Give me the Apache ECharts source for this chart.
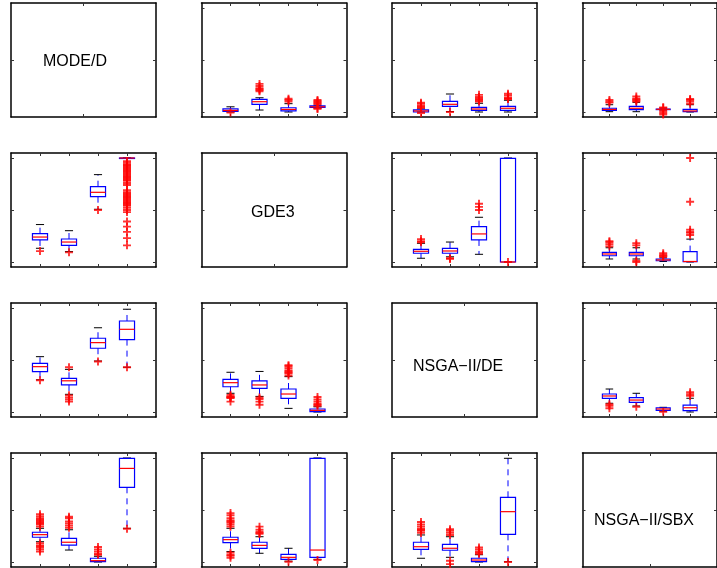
<!DOCTYPE html>
<html><head><meta charset="utf-8">
<script src="https://cdn.jsdelivr.net/npm/echarts@6/dist/echarts.min.js"></script>
<style>html,body{margin:0;padding:0;background:#fff}#c{width:717px;height:568px}</style>
</head><body><div id="c"></div>
<script>
// algorithm positions on each panel's x axis
const positions = [1, 2, 3, 4];
const algorithms = ['MODE/D', 'GDE3', 'NSGA\u2212II/DE', 'NSGA\u2212II/SBX'];
const yTicks = [0, 0.5, 1];

// boxes: [lowerWhisker, q1, median, q3, upperWhisker] for positions 1..4 (normalized values)
const box_0_1 = [[0.0,0.005,0.015,0.03,0.05],[0.019,0.074,0.099,0.122,0.137],[0.0,0.01,0.025,0.041,0.08],[0.04,0.045,0.05,0.058,0.065]];
const out_0_1 = [[-0.005],[0.2,0.21,0.22,0.23,0.25,0.27],[0.1,0.115,0.128],[0.075,0.085,0.095,0.105,0.115,0.03,0.035]];
const box_0_2 = [[0.0,0.0,0.01,0.02,0.03],[0.005,0.055,0.074,0.103,0.173],[0.0,0.016,0.029,0.045,0.084],[0.0,0.016,0.036,0.055,0.113]];
const out_0_2 = [[0.04,0.05,0.06,0.08,0.09,-0.01],[0.0],[0.1,0.11,0.12,0.13,0.145,0.165],[0.125,0.13,0.14,0.16,0.175]];
const box_0_3 = [[0.003,0.016,0.025,0.036,0.07],[0.003,0.022,0.036,0.055,0.093],[0.02,0.024,0.026,0.028,0.03],[0.0,0.003,0.01,0.026,0.07]];
const out_0_3 = [[0.09,0.1,0.115],[0.1,0.11,0.12,0.13,0.15],[0.01,-0.01,-0.025,0.04,0.045],[0.08,0.1,0.115,0.125]];
const box_1_0 = [[0.132,0.212,0.24,0.272,0.36],[0.1,0.16,0.192,0.221,0.301],[0.507,0.628,0.67,0.724,0.84],[1.0,1.0,1.0,1.0,1.0]];
const out_1_0 = [[0.105],[0.093],[0.5],[0.97,0.955,0.94,0.93,0.92,0.91,0.9,0.89,0.88,0.87,0.86,0.85,0.84,0.83,0.82,0.81,0.8,0.79,0.78,0.76,0.74,0.69,0.67,0.66,0.65,0.64,0.63,0.62,0.61,0.6,0.59,0.58,0.57,0.56,0.55,0.54,0.52,0.5,0.48,0.39,0.34,0.29,0.23,0.16]];
const box_1_2 = [[0.036,0.084,0.103,0.122,0.18],[0.05,0.084,0.106,0.132,0.192],[0.074,0.212,0.27,0.34,0.43],[0.0,0.0,0.0,0.997,1.0]];
const out_1_2 = [[0.19,0.2,0.22],[0.036,0.03],[0.5,0.53,0.56],[0.0]];
const box_1_3 = [[0.029,0.06,0.077,0.093,0.137],[0.029,0.06,0.077,0.093,0.137],[0.005,0.012,0.02,0.029,0.04],[0.0,0.003,0.005,0.1,0.22]];
const out_1_3 = [[0.15,0.17,0.19,0.2],[0.16,0.18,0.0,0.013],[0.05,0.06,0.07,0.085],[0.26,0.28,0.29,0.31,0.58,1.0]];
const box_2_0 = [[0.31,0.388,0.436,0.468,0.532],[0.17,0.26,0.3,0.324,0.41],[0.49,0.613,0.667,0.709,0.81],[0.43,0.696,0.795,0.875,0.988]];
const out_2_0 = [[0.305],[0.43,0.16,0.14,0.12,0.1],[0.485],[0.43]];
const box_2_1 = [[0.18,0.243,0.282,0.314,0.382],[0.15,0.228,0.26,0.3,0.39],[0.035,0.132,0.173,0.221,0.34],[0.0,0.003,0.016,0.029,0.05]];
const out_2_1 = [[0.165,0.15,0.145,0.14,0.135,0.1],[0.14,0.125,0.1,0.07],[0.35,0.37,0.38,0.39,0.4,0.42,0.44,0.45],[0.06,0.07,0.08,0.1,0.12,0.145]];
const box_2_3 = [[0.084,0.132,0.154,0.173,0.221],[0.058,0.093,0.115,0.138,0.18],[0.008,0.016,0.029,0.041,0.045],[0.0,0.013,0.041,0.067,0.132]];
const out_2_3 = [[0.075,0.06,0.036],[0.05],[0.003],[0.155,0.17,0.19]];
const box_3_0 = [[0.195,0.238,0.263,0.286,0.324],[0.115,0.163,0.19,0.228,0.31],[0.0,0.003,0.013,0.036,0.055],[0.324,0.718,0.9,0.997,1.0]];
const out_3_0 = [[0.34,0.36,0.37,0.38,0.39,0.4,0.41,0.42,0.44,0.46,0.18,0.16,0.15,0.14,0.12,0.1],[0.33,0.35,0.37,0.39,0.42,0.435],[0.07,0.08,0.1,0.12,0.145],[0.32]];
const box_3_1 = [[0.1,0.186,0.215,0.238,0.324],[0.084,0.132,0.16,0.19,0.243],[0.008,0.026,0.045,0.074,0.132],[0.026,0.045,0.115,0.997,1.0]];
const out_3_1 = [[0.34,0.36,0.38,0.39,0.4,0.42,0.45,0.47,0.09,0.07,0.06,0.04],[0.27,0.28,0.29,0.31,0.34],[0.003],[0.02]];
const box_3_2 = [[0.036,0.122,0.147,0.19,0.26],[0.045,0.113,0.132,0.17,0.243],[0.0,0.003,0.019,0.036,0.07],[0.003,0.266,0.484,0.622,0.997]];
const out_3_2 = [[0.28,0.3,0.31,0.32,0.34,0.36,0.385],[0.26,0.28,0.3,0.315,0.012,-0.02],[0.08,0.09,0.1,0.12,0.14],[0.0]];

const boxes = {'0_1':box_0_1,'0_2':box_0_2,'0_3':box_0_3,'1_0':box_1_0,'1_2':box_1_2,'1_3':box_1_3,
  '2_0':box_2_0,'2_1':box_2_1,'2_3':box_2_3,'3_0':box_3_0,'3_1':box_3_1,'3_2':box_3_2};
const outs = {'0_1':out_0_1,'0_2':out_0_2,'0_3':out_0_3,'1_0':out_1_0,'1_2':out_1_2,'1_3':out_1_3,
  '2_0':out_2_0,'2_1':out_2_1,'2_3':out_2_3,'3_0':out_3_0,'3_1':out_3_1,'3_2':out_3_2};

const BLUE = '#0000ff', RED = '#ff0000';
function renderBox(params, api) {
  const x = api.value(0);
  const lo = api.value(1), q1 = api.value(2), md = api.value(3), q3 = api.value(4), hi = api.value(5);
  const xl = api.coord([x - 0.26, q3])[0], xr = api.coord([x + 0.26, q3])[0];
  const cx = api.coord([x, q3])[0];
  const cl = api.coord([x - 0.14, q3])[0], cr = api.coord([x + 0.14, q3])[0];
  const yT = api.coord([x, q3])[1], yB = api.coord([x, q1])[1], yM = api.coord([x, md])[1];
  const yH = api.coord([x, hi])[1], yL = api.coord([x, lo])[1];
  const dash = {stroke: BLUE, lineWidth: 1, lineDash: [6, 5], fill: null};
  return {type: 'group', children: [
    {type: 'line', shape: {x1: cx, y1: yT, x2: cx, y2: yH}, style: dash},
    {type: 'line', shape: {x1: cx, y1: yB, x2: cx, y2: yL}, style: dash},
    {type: 'line', shape: {x1: cl, y1: yH, x2: cr, y2: yH}, style: {stroke: '#000', lineWidth: 1}},
    {type: 'line', shape: {x1: cl, y1: yL, x2: cr, y2: yL}, style: {stroke: '#000', lineWidth: 1}},
    {type: 'rect', shape: {x: xl, y: yT, width: xr - xl, height: Math.max(yB - yT, 0.5)}, style: {stroke: BLUE, lineWidth: 1.2, fill: null}},
    {type: 'line', shape: {x1: xl, y1: yM, x2: xr, y2: yM}, style: {stroke: RED, lineWidth: 1.2}}
  ]};
}

const grids = [], xAxes = [], yAxes = [], series = [];
const axisLine = {show: true, onZero: false, lineStyle: {color: '#000', width: 1.5}};
for (let r = 0; r < 4; r++) {
  for (let c = 0; c < 4; c++) {
    const i = r * 4 + c;
    const diag = r === c;
    grids.push({left: 11 + 190.5 * c, top: 3 + 150 * r, width: 145, height: 114});
    const xr = diag ? [0, 1] : [0, 5];
    const xt = diag ? [0.5] : positions;
    const yr = diag ? [0, 1] : [-0.048, 1.048];
    const yt = diag ? [0.5] : yTicks;
    ['bottom', 'top'].forEach(p => xAxes.push({gridIndex: i, type: 'value', position: p, min: xr[0], max: xr[1],
      axisLine: axisLine, axisTick: {show: true, inside: true, length: 3, customValues: xt, lineStyle: {color: '#333', width: 1}},
      axisLabel: {show: false}, splitLine: {show: false}}));
    ['left', 'right'].forEach(p => yAxes.push({gridIndex: i, type: 'value', position: p, min: yr[0], max: yr[1],
      axisLine: axisLine, axisTick: {show: true, inside: true, length: 3, customValues: yt, lineStyle: {color: '#333', width: 1}},
      axisLabel: {show: false}, splitLine: {show: false}}));
    if (diag) continue;
    const key = r + '_' + c;
    const bdata = boxes[key].map((b, k) => [positions[k]].concat(b));
    series.push({type: 'custom', xAxisIndex: 2 * i, yAxisIndex: 2 * i, renderItem: renderBox,
      encode: {x: 0, y: [1, 2, 3, 4, 5]}, data: bdata, clip: false, silent: true});
    const odata = [];
    outs[key].forEach((arr, k) => arr.forEach(v => odata.push([positions[k], v])));
    series.push({type: 'scatter', xAxisIndex: 2 * i, yAxisIndex: 2 * i, data: odata,
      symbol: 'path://M5 0 L5 10 M0 5 L10 5', symbolSize: 8,
      itemStyle: {color: 'none', borderColor: RED, borderWidth: 1.9}, z: 3, silent: true});
  }
}

const labelPos = [[43, 63], [251, 214], [413, 368], [594, 522]];
const graphic = algorithms.map((t, k) => ({type: 'text', left: labelPos[k][0], top: labelPos[k][1] - 9,
  style: {text: t, fill: '#000', font: '16px "Liberation Sans", Arial, sans-serif'}}));

const chart = echarts.init(document.getElementById('c'), null, {renderer: 'canvas'});
chart.setOption({animation: false, grid: grids, xAxis: xAxes, yAxis: yAxes, series: series, graphic: graphic});
</script></body></html>
